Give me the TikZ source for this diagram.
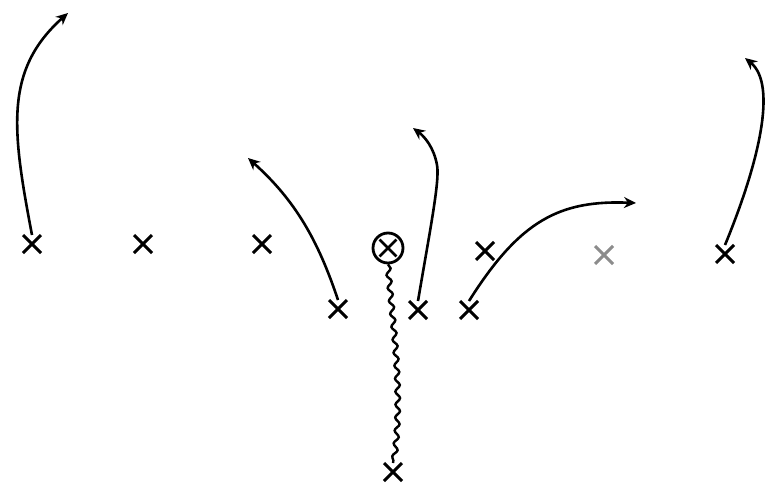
\documentclass[tikz,border=0pt]{standalone}
\usetikzlibrary{shapes.misc,arrows.meta,decorations.pathmorphing}
\begin{document}
\begin{tikzpicture}[x=1pt,y=-1pt,
  player/.style={cross out,draw=black,line width=3pt,minimum size=15pt,inner sep=0pt},
  faint/.style={player,draw=black!45},
  route/.style={line width=2.6pt,-{Stealth[length=12pt,width=11pt]}},
  ball/.style={circle,draw=black,line width=2.8pt,minimum size=30pt,inner sep=0pt,
    path picture={\draw[line width=2.8pt] (path picture bounding box.center) +(45:12pt) -- +(225:12pt);
    \draw[line width=2.8pt] (path picture bounding box.center) +(135:12pt) -- +(315:12pt);}}]
\useasboundingbox (0,0) rectangle (770,482);
\fill[white] (0,0) rectangle (770,482);
% line
\node[player] (le) at (32,244) {};
\node[player] (lt) at (143,244) {};
\node[player] (lg) at (262,244) {};
\node[ball] (c) at (388,248) {};
\node[player] (rg) at (485,251) {};
\node[faint] (rt) at (604,255) {};
\node[player] (re) at (725,254) {};
% backs
\node[player] (b1) at (338,309) {};
\node[player] (b2) at (418,310) {};
\node[player] (b3) at (469,310) {};
\node[player] (b4) at (393,472) {};
% targets
\coordinate (t1) at (68,13);
\coordinate (t2) at (248,158);
\coordinate (t3) at (413,128);
\coordinate (t4) at (636,203);
\coordinate (t5) at (745,58);
% routes
\draw[route] (le.north) .. controls (12,130) and (4,70) .. (t1);
\draw[route] (b1.north) .. controls (318,240) and (295,200) .. (t2);
\draw[route] (b2.north) .. controls (430,230) and (440,180) .. (437,165) .. controls (434,148) and (425,137) .. (t3);
\draw[route] (b3.north) .. controls (520,220) and (560,200) .. (t4);
\draw[route] (re.north) .. controls (758,165) and (778,85) .. (t5);
% snap
\draw[line width=2.4pt,decorate,decoration={snake,segment length=13pt,amplitude=2.3pt}]
  (c.south) .. controls (392,320) and (404,390) .. (b4.north);
\end{tikzpicture}
\end{document}
